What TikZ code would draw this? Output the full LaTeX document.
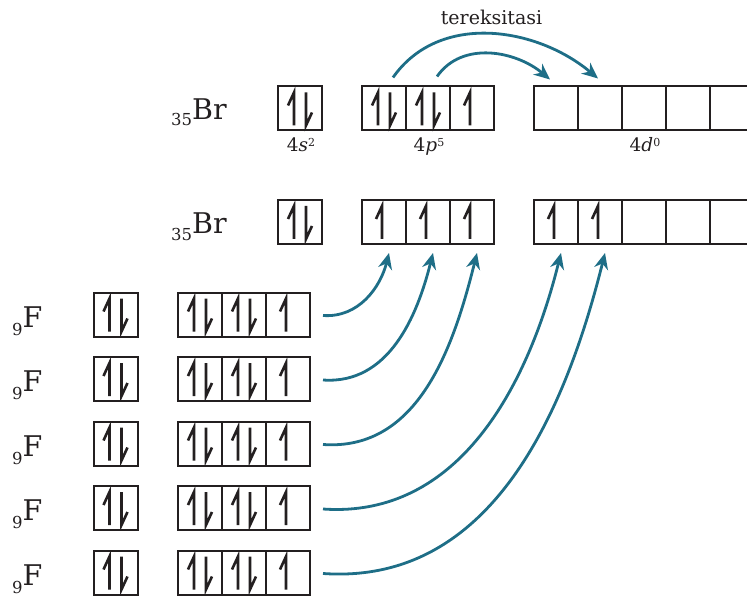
\documentclass[tikz,border=0pt]{standalone}
\usepackage{fontspec}
\setmainfont{DejaVu Serif}
\usepackage{tikz}
\usetikzlibrary{arrows.meta}

\definecolor{ink}{RGB}{35,31,32}
\definecolor{arrowteal}{RGB}{30,110,135}

\tikzset{
    orb/.style={draw=ink, line width=2pt, minimum size=44pt, inner sep=0pt, outer sep=0pt},
    spin/.style={draw=ink, line width=2.6pt},
    bond/.style={draw=arrowteal, line width=2.8pt, -{Stealth[length=16pt, width=14pt]}},
    elem/.style={text=ink, font=\fontsize{28.5}{30}\selectfont, inner sep=0pt},
    shell/.style={text=ink, font=\fontsize{18.5}{20}\selectfont, inner sep=0pt}
}

% half arrows for the electrons
\newcommand{\eup}[2]{\draw[spin] ([xshift=#2pt,yshift=-17pt]#1.center) -- ++(0,33) -- ++(-6,-13);}
\newcommand{\edown}[2]{\draw[spin] ([xshift=#2pt,yshift=16pt]#1.center) -- ++(0,-33) -- ++(6,13);}
\newcommand{\epair}[1]{\eup{#1}{-6}\edown{#1}{6}}
\newcommand{\esingle}[1]{\eup{#1}{-2}}
\newcommand{\sups}[1]{\raisebox{5.5pt}{\fontsize{11}{11}\selectfont #1}}
\newcommand{\subs}[2]{\raisebox{-#2pt}{\fontsize{16.5}{18}\selectfont #1}}

\begin{document}
\begin{tikzpicture}[x=1pt, y=1pt]
    \useasboundingbox (0,0) rectangle (747,-596);

    % Br ground state
    \node[elem, anchor=base west] (brg) at (171,-120) {\subs{35}{6}Br};
    \node[orb] (g4s) at (300,-108.5) {};
    \foreach \i in {1,2,3} {
        \node[orb] (g4p\i) at ({340+44*\i},-108.5) {};
    }
    \foreach \i in {1,...,5} {
        \node[orb] (g4d\i) at ({512+44*\i},-108.5) {};
    }
    \epair{g4s} \epair{g4p1} \epair{g4p2} \esingle{g4p3}

    % Labels for subshells
    \node[shell, anchor=base] (l4s) at (301,-152) {4\textit{s}\sups{2}};
    \node[shell, anchor=base] (l4p) at (429,-152) {4\textit{p}\sups{5}};
    \node[shell, anchor=base] (l4d) at (645,-152) {4\textit{d}\sups{0}};

    % excitation
    \node[text=ink, font=\fontsize{19}{21}\selectfont, anchor=base] (exc) at (491.5,-25) {tereksitasi};
    \draw[bond] ([xshift=9pt,yshift=9pt]g4p1.north) to[out=55, in=140] ([xshift=-2pt,yshift=8pt]g4d2.north);
    \draw[bond] ([xshift=9pt,yshift=10pt]g4p2.north) to[out=55, in=140] ([xshift=-6pt,yshift=7pt]g4d1.north);

    % Br excited state
    \node[elem, anchor=base west] (bre) at (171,-234) {\subs{35}{6}Br};
    \node[orb] (e4s) at (300,-222) {};
    \foreach \i in {1,2,3} {
        \node[orb] (e4p\i) at ({340+44*\i},-222) {};
    }
    \foreach \i in {1,...,5} {
        \node[orb] (e4d\i) at ({512+44*\i},-222) {};
    }
    \epair{e4s} \esingle{e4p1} \esingle{e4p2} \esingle{e4p3}
    \esingle{e4d1} \esingle{e4d2}

    % five F atoms
    \foreach \r [evaluate=\r as \y using -314.5-64.5*(\r-1)] in {1,...,5} {
        \node[elem, anchor=base west] (fl\r) at (12,\y-12.5) {\subs{9}{8}F};
        \node[orb] (f\r-s) at (115.5,\y) {};
        \foreach \i in {1,2,3} {
            \node[orb] (f\r-p\i) at ({156+44*\i},\y) {};
        }
        \epair{f\r-s} \epair{f\r-p1} \epair{f\r-p2} \esingle{f\r-p3}
    }

    % bonds to Br
    \foreach \r/\t in {1/e4p1, 2/e4p2, 3/e4p3, 4/e4d1, 5/e4d2} {
        \draw[bond] ([xshift=13pt,yshift=-1pt]f\r-p3.east) to[out=-4, in=-104] ([xshift=5pt,yshift=-9pt]\t.south);
    }
\end{tikzpicture}
\end{document}
